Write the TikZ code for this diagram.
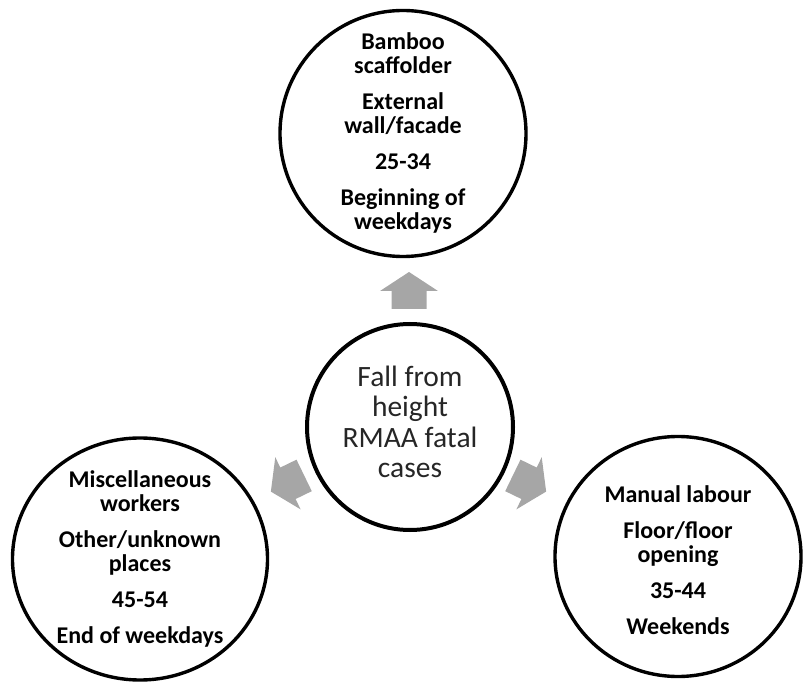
\documentclass[tikz,border=0pt]{standalone}
\usepackage{fontspec}
\setmainfont{Carlito}
\usetikzlibrary{shapes.geometric}
\definecolor{arrowgray}{HTML}{A6A6A6}
\definecolor{centertext}{HTML}{262626}
\tikzset{
  outerbubble/.style={ellipse, draw=black, line width=3.4pt, inner sep=0pt},
  centerbubble/.style={ellipse, draw=black, line width=4pt, inner sep=0pt},
  outertext/.style={inner sep=0pt, align=center, font=\fontsize{24}{24}\selectfont\bfseries},
  centerlabel/.style={inner sep=0pt, align=center, text=centertext, font=\fontsize{29.5}{30.5}\selectfont},
  blockarrow/.pic={\fill[arrowgray] (-18.5,-17.5) -- (-0.5,-17.5) -- (-0.5,-29) -- (18.5,0)
    -- (-0.5,29) -- (-0.5,17.5) -- (-18.5,17.5) -- cycle;}
}
\begin{document}
\begin{tikzpicture}[x=1pt,y=-1pt]
\useasboundingbox (0,0) rectangle (803,684);
\node[outerbubble, minimum width=246pt, minimum height=246pt] (top) at (403,133.5) {};
\node[outertext] (toptext) at ([yshift=1pt]top.center)
  {Bamboo\\scaffolder\\[12pt]External\\wall/facade\\[12pt]25-34\\[12pt]Beginning of\\weekdays};
\node[outerbubble, minimum width=255pt, minimum height=242pt] (left) at (140,559) {};
\node[outertext] (lefttext) at (left.center)
  {Miscellaneous\\workers\\[12pt]Other/unknown\\places\\[12pt]45-54\\[12pt]End of weekdays};
\node[outerbubble, minimum width=246pt, minimum height=240pt] (right) at (678,556.5) {};
\node[outertext] (righttext) at ([yshift=-4pt]right.center)
  {Manual labour\\[12pt]Floor/floor\\opening\\[12pt]35-44\\[12pt]Weekends};
\node[centerbubble, minimum width=206pt, minimum height=206pt] (center) at (410,427) {};
\node[centerlabel] (centertxt) at ([yshift=5pt]center.center)
  {Fall from\\height\\RMAA fatal\\cases};
\pic[rotate=90] (uparrow) at (409,290.5) {blockarrow};
\pic[rotate=205.9] (leftarrow) at (287.5,483.5) {blockarrow};
\pic[rotate=-25.9] (rightarrow) at (529.5,483.5) {blockarrow};
\end{tikzpicture}
\end{document}
